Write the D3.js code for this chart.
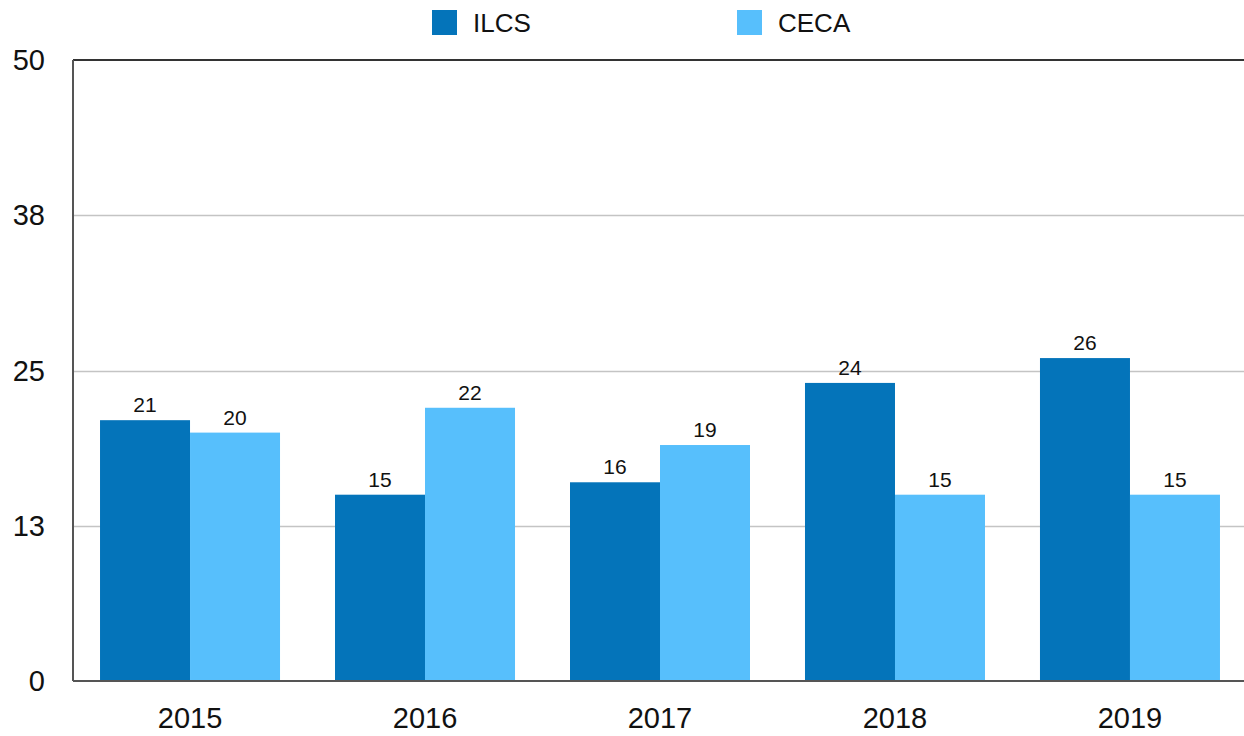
<!DOCTYPE html>
<html>
<head>
<meta charset="utf-8">
<script src="https://cdn.jsdelivr.net/npm/d3@7"></script>
<style>
  body { margin: 0; background: #fff; }
  text { font-family: "Liberation Sans", Arial, Helvetica, sans-serif; fill: #111; }
</style>
</head>
<body>
<div id="the_chart"></div>
<script>
var years = ["2015", "2016", "2017", "2018", "2019"];
var seriesNames = ["ILCS", "CECA"];
var ilcs = [21, 15, 16, 24, 26];
var ceca = [20, 22, 19, 15, 15];
var tickVals = [0, 12.5, 25, 37.5, 50];
var colors = ["#0474ba", "#57bffc"];

var w = 1244, h = 736;
var mLeft = 73, mRight = 1244, mTop = 60, mBottom = 681;

var svg = d3.select("#the_chart")
            .append("svg")
            .attr("width", w)
            .attr("height", h);

var yscale = d3.scaleLinear()
        .domain([0, 50])
        .range([mBottom, mTop]);

// bands run a little past the right edge, as in the source chart
var x0 = d3.scaleBand()
        .domain(years)
        .range([mLeft, 1247])
        .paddingInner(0.234)
        .paddingOuter(0.115);

var x1 = d3.scaleBand()
        .domain(seriesNames)
        .range([0, x0.bandwidth()]);

var table = years.map(function(y, i) {
  return {year: y, vals: [{name: "ILCS", v: ilcs[i]}, {name: "CECA", v: ceca[i]}]};
});

// grid lines
svg.append("g")
   .selectAll("line")
   .data(tickVals.slice(1, 4))
   .enter()
   .append("line")
   .attr("x1", mLeft)
   .attr("x2", mRight)
   .attr("y1", function(d){ return Math.round(yscale(d)) + 0.5; })
   .attr("y2", function(d){ return Math.round(yscale(d)) + 0.5; })
   .style("stroke", "#c4c4c4")
   .style("stroke-width", "1.5px");

// bars
var groups = svg.append("g")
   .selectAll("g")
   .data(table)
   .enter()
   .append("g")
   .attr("transform", function(d){ return "translate(" + x0(d.year) + ",0)"; });

groups.selectAll("rect")
   .data(function(d){ return d.vals; })
   .enter()
   .append("rect")
   .attr("x", function(d){ return x1(d.name); })
   .attr("width", x1.bandwidth())
   .attr("y", function(d){ return yscale(d.v); })
   .attr("height", function(d){ return yscale(0) - yscale(d.v); })
   .style("fill", function(d, i){ return colors[i]; });

groups.selectAll("text")
   .data(function(d){ return d.vals; })
   .enter()
   .append("text")
   .attr("x", function(d){ return x1(d.name) + x1.bandwidth() / 2; })
   .attr("y", function(d){ return yscale(d.v) - 8; })
   .attr("text-anchor", "middle")
   .style("font-size", "21px")
   .text(function(d){ return d.v; });

// axes frame
svg.append("line")
   .attr("x1", mLeft).attr("x2", mRight)
   .attr("y1", mTop).attr("y2", mTop)
   .style("stroke", "#333").style("stroke-width", "2px");
svg.append("line")
   .attr("x1", mLeft).attr("x2", mRight)
   .attr("y1", mBottom).attr("y2", mBottom)
   .style("stroke", "#555").style("stroke-width", "2px");
svg.append("line")
   .attr("x1", mLeft).attr("x2", mLeft)
   .attr("y1", mTop).attr("y2", mBottom)
   .style("stroke", "#555").style("stroke-width", "2px");

// y labels
svg.append("g")
   .selectAll("text")
   .data(tickVals)
   .enter()
   .append("text")
   .attr("x", 45)
   .attr("y", function(d){ return yscale(d) + 10; })
   .attr("text-anchor", "end")
   .style("font-size", "29px")
   .text(function(d){ return Math.round(d); });

// x labels
svg.append("g")
   .selectAll("text")
   .data(years)
   .enter()
   .append("text")
   .attr("x", function(d){ return x0(d) + x0.bandwidth() / 2; })
   .attr("y", 728)
   .attr("text-anchor", "middle")
   .style("font-size", "29px")
   .text(function(d){ return d; });

// legend
var legendX = [432, 737];
var legend = svg.append("g")
   .selectAll("g")
   .data(seriesNames)
   .enter()
   .append("g")
   .attr("transform", function(d, i){ return "translate(" + legendX[i] + ",10)"; });

legend.append("rect")
   .attr("width", 25)
   .attr("height", 25)
   .style("fill", function(d, i){ return colors[i]; });

legend.append("text")
   .attr("x", 41)
   .attr("y", 22)
   .style("font-size", "26px")
   .text(function(d){ return d; });
</script>
</body>
</html>
